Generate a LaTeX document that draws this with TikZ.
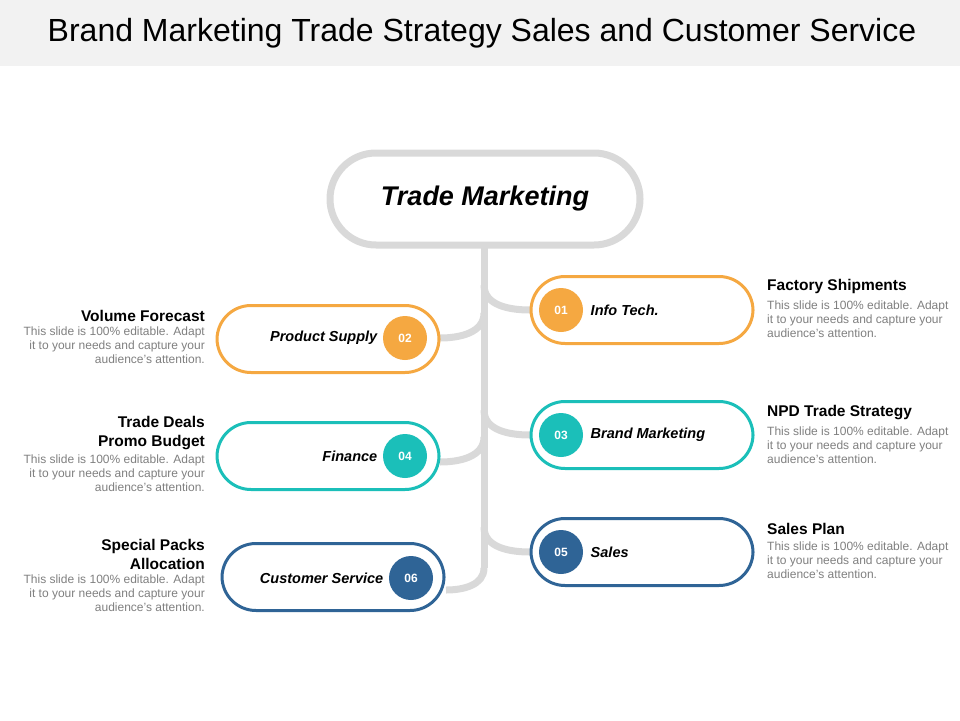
\documentclass[tikz,border=0pt]{standalone}
\usepackage{fontspec}
\setmainfont{Liberation Sans}
\usetikzlibrary{positioning,calc}
\definecolor{orng}{HTML}{F5A841}
\definecolor{teal}{HTML}{1BBFB9}
\definecolor{navy}{HTML}{2F6496}
\definecolor{trunk}{HTML}{D9D9D9}
\definecolor{bodytxt}{HTML}{7F7F7F}
\begin{document}
\begin{tikzpicture}[x=1pt,y=-1pt,
    pill/.style={draw=#1, line width=3pt, rounded corners=34pt, minimum width=222pt, minimum height=67pt},
    num/.style={circle, fill=#1, minimum size=44pt, inner sep=0pt, text=white, font=\bfseries\fontsize{12}{12}\selectfont},
    lbl/.style={font=\bfseries\itshape\fontsize{14.5}{14.5}\selectfont},
    head/.style={font=\bfseries\fontsize{15.5}{19}\selectfont, inner sep=0pt},
    body/.style={font=\fontsize{12}{14}\selectfont, text=bodytxt, inner sep=0pt},
    branch/.style={draw=trunk, line width=7pt}
]
    \useasboundingbox (0,0) rectangle (960,720);
    % Title bar
    \fill[gray!10] (0,0) rectangle (960,66);
    \node (title) at (482,33) {\fontsize{32}{32}\selectfont Brand Marketing Trade Strategy Sales and Customer Service};

    % Trunk and branches
    \coordinate (top) at (484,246);
    \coordinate (bend) at (484,568);
    \draw[branch] (top) -- (bend);
    \draw[branch] (bend) to[out=-90,in=0] (446,590);
    \draw[branch] (484,285) to[out=-90,in=180] (530,310);
    \draw[branch] (484,410) to[out=-90,in=180] (530,435);
    \draw[branch] (484,527) to[out=-90,in=180] (530,552);
    \draw[branch] (440,338) to[out=0,in=-90] (484,313);
    \draw[branch] (440,462) to[out=0,in=-90] (484,437);

    % Main pill
    \node[draw=trunk, line width=7pt, fill=white, rounded corners=46pt, minimum width=310pt, minimum height=92pt] (main) at (485,199)
        {\bfseries\itshape\fontsize{27}{27}\selectfont Trade Marketing};

    % Item pills
    \node[pill=orng, fill=white] (p1) at (642,310) {};
    \node[pill=orng, fill=white] (p2) at (328,339) {};
    \node[pill=teal, fill=white] (p3) at (642,435) {};
    \node[pill=teal, fill=white] (p4) at (328,456) {};
    \node[pill=navy, fill=white] (p5) at (642,552) {};
    \node[pill=navy, fill=white] (p6) at (333,577) {};

    \node[num=orng] (n1) at (561,310) {01};
    \node[num=orng] (n2) at (405,338) {02};
    \node[num=teal] (n3) at (561,435) {03};
    \node[num=teal] (n4) at (405,456) {04};
    \node[num=navy] (n5) at (561,552) {05};
    \node[num=navy] (n6) at (411,578) {06};

    \node[lbl, right=4pt of n1] {Info Tech.};
    \node[lbl, left=2pt of n2] {Product Supply};
    \node[lbl, right=4pt of n3] {Brand Marketing};
    \node[lbl, left=2pt of n4] {Finance};
    \node[lbl, right=4pt of n5] {Sales};
    \node[lbl, left=2pt of n6] {Customer Service};

    % Right texts
    \node[head, anchor=north west] (h1) at (767,279) {Factory Shipments};
    \node[body, align=left, below=7pt of h1.south west, anchor=north west] {This slide is 100\% editable. Adapt\\it to your needs and capture your\\audience's attention.};
    \node[head, anchor=north west] (h3) at (767,405) {NPD Trade Strategy};
    \node[body, align=left, below=7pt of h3.south west, anchor=north west] {This slide is 100\% editable. Adapt\\it to your needs and capture your\\audience's attention.};
    \node[head, anchor=north west] (h5) at (767,523) {Sales Plan};
    \node[body, align=left, below=7pt of h5.south west, anchor=north west] {This slide is 100\% editable. Adapt\\it to your needs and capture your\\audience's attention.};

    % Left texts
    \node[head, anchor=north east, align=right] (h2) at (205,310) {Volume Forecast};
    \node[body, align=right, below=5pt of h2.south east, anchor=north east] {This slide is 100\% editable. Adapt\\it to your needs and capture your\\audience's attention.};
    \node[head, anchor=north east, align=right] (h4) at (205,416) {Trade Deals\\Promo Budget};
    \node[body, align=right, below=5pt of h4.south east, anchor=north east] {This slide is 100\% editable. Adapt\\it to your needs and capture your\\audience's attention.};
    \node[head, anchor=north east, align=right] (h6) at (205,539) {Special Packs\\Allocation};
    \node[body, align=right, below=5pt of h6.south east, anchor=north east] {This slide is 100\% editable. Adapt\\it to your needs and capture your\\audience's attention.};
\end{tikzpicture}
\end{document}
